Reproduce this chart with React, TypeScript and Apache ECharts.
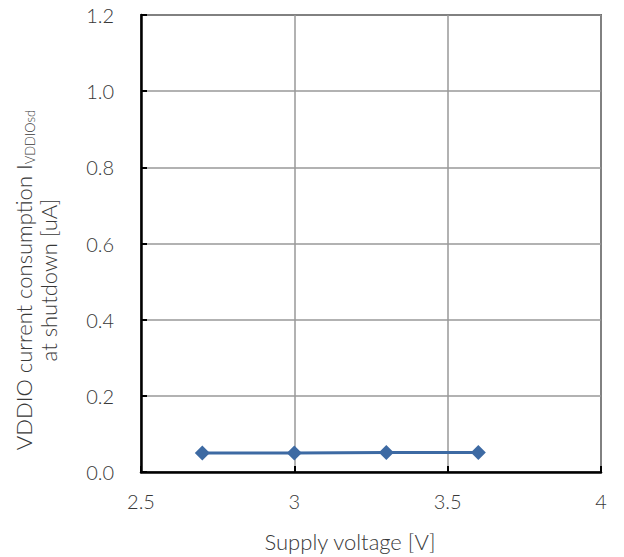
import React, { useEffect, useRef } from "react";
import * as echarts from "echarts";

const voltages = [2.7, 3.0, 3.3, 3.6];
const currents = [0.05, 0.05, 0.051, 0.051];
const xTicks = [2.5, 3, 3.5, 4];
const yTicks = [0, 0.2, 0.4, 0.6, 0.8, 1.0, 1.2];

const FONT = "Lato, 'Open Sans', 'Noto Sans', sans-serif";
const TXT = "#383838";

export default function App() {
  const ref = useRef<HTMLDivElement>(null);
  useEffect(() => {
    const chart = echarts.init(ref.current!, undefined, { renderer: "svg" });
    chart.setOption({
      animation: false,
      backgroundColor: "#ffffff",
      grid: { left: 141, right: 23, top: 15, bottom: 84, show: true, borderColor: "#000", borderWidth: 1.5 },
      xAxis: {
        type: "value",
        min: 2.5,
        max: 4,
        interval: 0.5,
        name: "Supply voltage [V]",
        nameLocation: "middle",
        nameGap: 58,
        nameTextStyle: { fontFamily: FONT, fontSize: 22, fontWeight: 300, color: TXT, padding: [0, 42, 0, 0] },
        axisLine: { show: true, lineStyle: { color: "#000", width: 2.5 } },
        axisTick: { show: true, inside: true, length: 6, lineStyle: { color: "#000", width: 2 } },
        axisLabel: {
          fontFamily: FONT, fontSize: 20, fontWeight: 300, color: TXT, margin: 19,
          formatter: (v: number) => (xTicks.includes(v) ? String(v) : ""),
        },
        splitLine: { show: true, lineStyle: { color: "#999", width: 1.5 } },
      },
      yAxis: {
        type: "value",
        min: 0,
        max: 1.2,
        interval: 0.2,
        axisLine: { show: true, lineStyle: { color: "#000", width: 2.5 } },
        axisTick: { show: true, inside: true, length: 6, lineStyle: { color: "#000", width: 2 } },
        axisLabel: {
          fontFamily: FONT, fontSize: 20, fontWeight: 300, color: TXT, margin: 27,
          formatter: (v: number) => {
            const t = yTicks.find((y) => Math.abs(y - v) < 1e-9);
            return t === undefined ? "" : t.toFixed(1);
          },
        },
        splitLine: { show: true, lineStyle: { color: "#999", width: 1.5 } },
      },
      graphic: [
        {
          type: "text",
          x: 36,
          y: 280,
          rotation: Math.PI / 2,
          style: {
            text: "VDDIO current consumption I{sub|VDDIOsd}\nat shutdown [uA]",
            fontFamily: FONT,
            fontSize: 22,
            fontWeight: 300,
            fill: TXT,
            align: "center",
            verticalAlign: "middle",
            lineHeight: 25,
            rich: {
              sub: { fontFamily: FONT, fontSize: 13, fontWeight: 300, fill: TXT, verticalAlign: "bottom", padding: [8, 0, 0, 0] },
            },
          },
        },
      ],
      series: [
        {
          type: "line",
          data: voltages.map((v, i) => [v, currents[i]]),
          symbol: "diamond",
          symbolSize: 15,
          itemStyle: { color: "#3d6aa3" },
          lineStyle: { color: "#3d6aa3", width: 3 },
        },
      ],
    });
    return () => chart.dispose();
  }, []);
  return <div ref={ref} style={{ width: 624, height: 557, position: "absolute", left: 0, top: 0 }} />;
}
